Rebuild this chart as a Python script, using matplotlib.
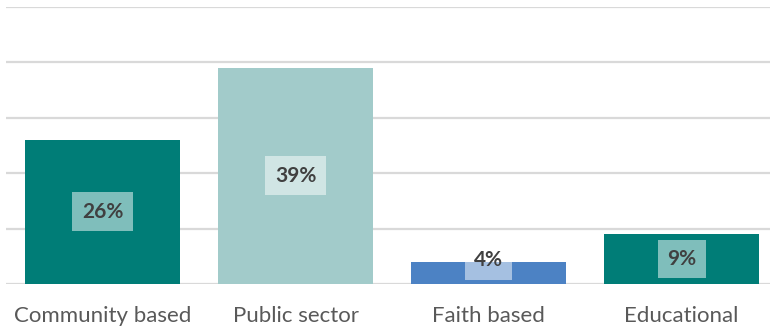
import matplotlib.pyplot as plt

categories = ["Community based", "Public sector", "Faith based", "Educational"]
values = [26, 39, 4, 9]
colors = ["#007D77", "#A2CBCA", "#4C82C4", "#007D77"]

plt.rcParams['font.family'] = ['Lato', 'DejaVu Sans']

fig = plt.figure(figsize=(7.7, 3.3), dpi=100)
ax = fig.add_axes([6 / 770, 46 / 330, 764 / 770, 277.5 / 330])

x = range(len(categories))
ax.bar(x, values, width=0.8, color=colors, zorder=2)

ax.set_xlim(-0.5, 3.458)
ax.set_ylim(0, 50)
ax.set_yticks(range(0, 51, 10))
ax.yaxis.grid(True, color="#D9D9D9", lw=1.6, zorder=0)
ax.set_axisbelow(True)
ax.tick_params(axis="y", left=False, labelleft=False)
ax.tick_params(axis="x", bottom=False, pad=12)
ax.set_xticks(list(x))
ax.set_xticklabels(categories, fontsize=16, color="#595959")
for s in ax.spines.values():
    s.set_visible(False)

for i, v in enumerate(values):
    ax.text(i, max(v / 2, 4.3), f"{v}%", ha="center", va="center",
            fontsize=15, fontweight="bold", color="#404040", zorder=3,
            bbox=dict(boxstyle="square,pad=0.45", fc="white", ec="none", alpha=0.5))

fig.savefig("out.png", dpi=100)
